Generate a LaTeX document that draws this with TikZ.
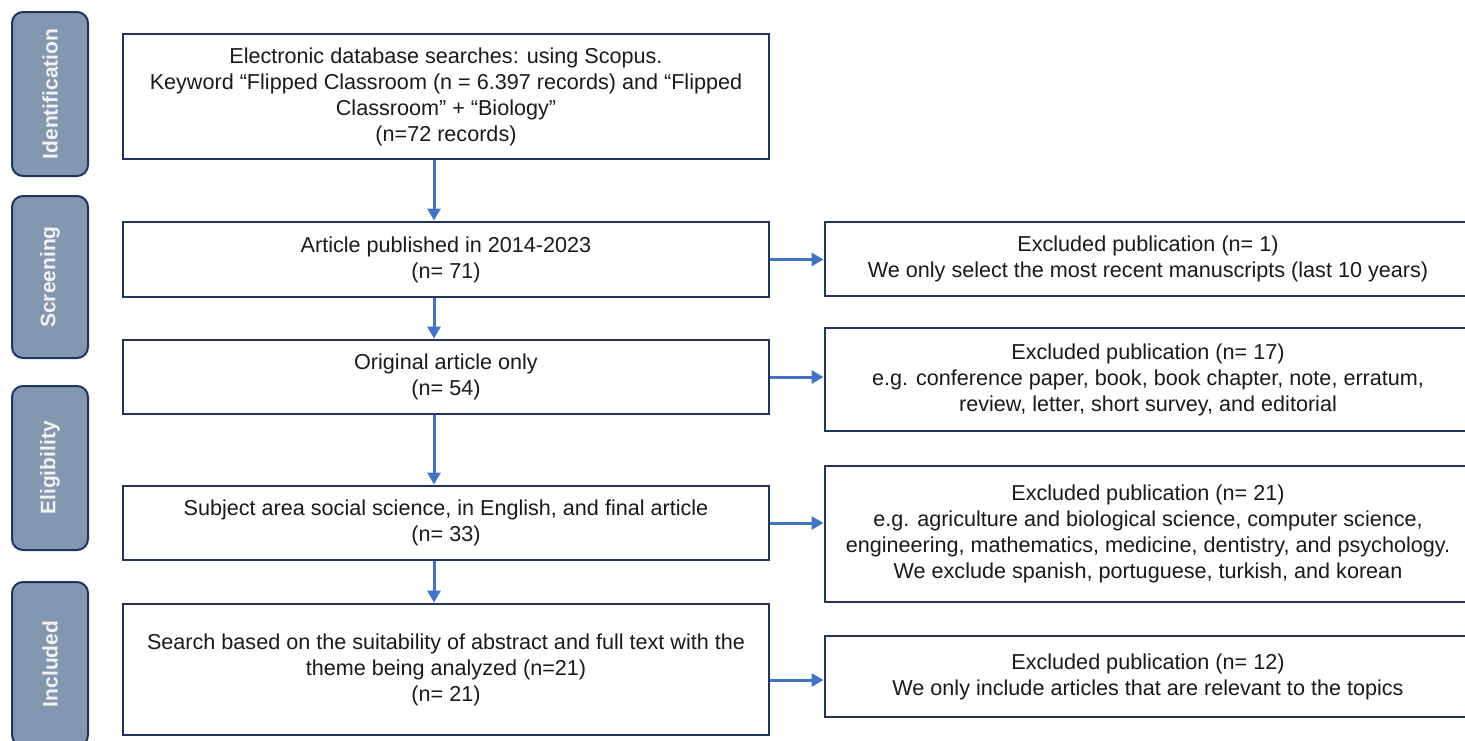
\documentclass[tikz,border=0pt]{standalone}
\usepackage{fontspec}
\setmainfont{Liberation Sans}
\usetikzlibrary{arrows.meta}
\definecolor{navy}{HTML}{1F3560}
\definecolor{labfill}{HTML}{8497B0}
\definecolor{arrblue}{HTML}{4472C4}
\definecolor{txt}{HTML}{1A1A1A}
\begin{document}
\begin{tikzpicture}[x=1pt,y=-1pt,
  box/.style={draw=navy, line width=2.9pt, fill=white, rectangle, align=center, inner sep=0pt, font=\fontsize{21.6}{26}\selectfont, text=txt},
  phase/.style={draw=navy, line width=2pt, fill=labfill, rounded corners=11pt, rotate=90, font=\bfseries\fontsize{21}{25}\selectfont, text=white!95!black, inner sep=0pt},
  arr/.style={draw=arrblue, line width=3pt, -{Triangle[length=12pt,width=13pt]}}]
\useasboundingbox (0,0) rectangle (1465,740);
\clip (0,0) rectangle (1465,740);
% phase labels
\node[phase, minimum width=164pt, minimum height=76pt] (pid) at (50,94) {Identification};
\node[phase, minimum width=162pt, minimum height=76pt] (psc) at (50,277) {Screening};
\node[phase, minimum width=164pt, minimum height=76pt] (pel) at (50,468) {Eligibility};
\node[phase, minimum width=164pt, minimum height=76pt] (pin) at (50,664) {Included};
% left boxes
\node[box, minimum width=646pt, minimum height=125pt] (L1) at (446,96.5) {Electronic database searches: using Scopus.\\Keyword “Flipped Classroom (n = 6.397 records) and “Flipped\\Classroom” + “Biology”\\(n=72 records)};
\node[box, minimum width=646pt, minimum height=75pt] (L2) at (446,259.5) {Article published in 2014-2023\\(n= 71)};
\node[box, minimum width=646pt, minimum height=74pt] (L3) at (446,377) {Original article only\\(n= 54)};
\node[box, minimum width=646pt, minimum height=74pt] (L4) at (446,523) {Subject area social science, in English, and final article\\(n= 33)};
\node[box, minimum width=646pt, minimum height=131pt] (L5) at (446,669.5) {Search based on the suitability of abstract and full text with the\\theme being analyzed (n=21)\\(n= 21)};
% right boxes
\node[box, minimum width=646pt, minimum height=74pt] (R1) at (1148,259) {Excluded publication (n= 1)\\We only select the most recent manuscripts (last 10 years)};
\node[box, minimum width=646pt, minimum height=103pt] (R2) at (1148,379.5) {Excluded publication (n= 17)\\e.g. conference paper, book, book chapter, note, erratum,\\review, letter, short survey, and editorial};
\node[box, minimum width=646pt, minimum height=136pt] (R3) at (1148,534) {Excluded publication (n= 21)\\e.g. agriculture and biological science, computer science,\\engineering, mathematics, medicine, dentistry, and psychology.\\We exclude spanish, portuguese, turkish, and korean};
\node[box, minimum width=646pt, minimum height=81pt] (R4) at (1148,676.5) {Excluded publication (n= 12)\\We only include articles that are relevant to the topics};
% arrows
\coordinate (ax) at (434,0);
\coordinate (a5) at (0,680);
\draw[arr] (L1.south -| ax) -- (L2.north -| ax);
\draw[arr] (L2.south -| ax) -- (L3.north -| ax);
\draw[arr] (L3.south -| ax) -- (L4.north -| ax);
\draw[arr] (L4.south -| ax) -- (L5.north -| ax);
\draw[arr] (L2.east) -- (R1.west |- L2.east);
\draw[arr] (L3.east) -- (R2.west |- L3.east);
\draw[arr] (L4.east) -- (R3.west |- L4.east);
\draw[arr] (L5.east |- a5) -- (R4.west |- a5);
\end{tikzpicture}
\end{document}
